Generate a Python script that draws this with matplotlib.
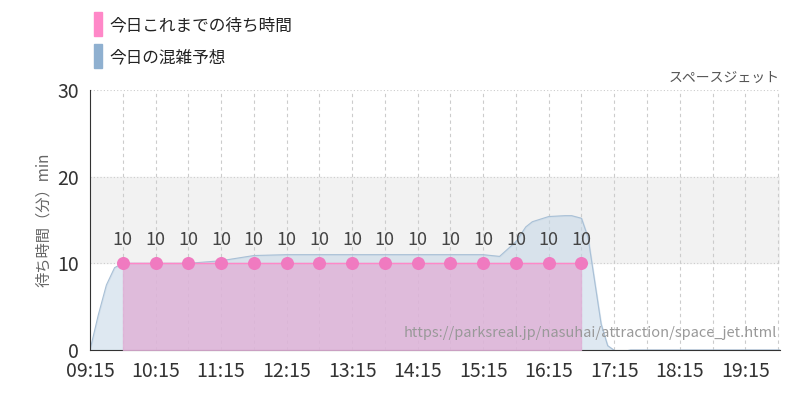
import matplotlib.pyplot as plt
import numpy as np

plt.rcParams['font.family'] = ['Noto Sans CJK JP', 'DejaVu Sans']

# 実績 (hours as decimals)
wait_times = [9.75, 10.25, 10.75, 11.25, 11.75, 12.25, 12.75, 13.25, 13.75, 14.25,
              14.75, 15.25, 15.75, 16.25, 16.75]
wait_values = [10] * 15

# 予想
fc_times = [9.25, 9.375, 9.5, 9.625, 9.75, 10.0, 10.25, 10.75, 11.25, 11.75, 12.25, 12.75,
            13.25, 13.75, 14.25, 14.75, 15.25, 15.5, 15.75, 15.9, 16.0, 16.25, 16.5, 16.6,
            16.75, 16.85, 16.95, 17.05, 17.15, 17.3, 17.5, 18.25, 19.25, 19.8]
fc_values = [0, 4, 7.5, 9.5, 10, 10, 10, 10, 10.3, 10.9, 11, 11, 11, 11, 11, 11, 11, 10.8,
             12.5, 14.2, 14.8, 15.4, 15.5, 15.5, 15.2, 13, 8, 3, 0.5, -0.3, 0, 0, 0, 0]

tick_pos = np.arange(9.25, 19.3, 1.0)
tick_labels = ['09:15', '10:15', '11:15', '12:15', '13:15', '14:15', '15:15', '16:15', '17:15', '18:15', '19:15']

fig = plt.figure(figsize=(8, 4), dpi=100)
ax = fig.add_axes([0.1125, 0.125, 0.8625, 0.65])

ax.axhspan(10, 20, color='#f2f2f2', zorder=0)
for x in np.arange(9.75, 19.8, 0.5):
    ax.axvline(x, color='#cccccc', ls=(0, (3, 3)), lw=0.8, zorder=1)
for y in [10, 20, 30]:
    ax.axhline(y, color='#cccccc', ls=(0, (1, 2)), lw=0.8, zorder=1)

ax.fill_between(fc_times, fc_values, color='#c3d6e6', alpha=0.55, zorder=2)
ax.plot(fc_times, fc_values, color='#a9c0d6', lw=0.8, zorder=2)

ax.fill_between(wait_times, wait_values, color='#e0b0d6', alpha=0.8, zorder=3)
ax.plot(wait_times, wait_values, color='#ff88c8', lw=1, zorder=4)
ax.scatter(wait_times, wait_values, s=70, color='#f07ac0', zorder=5)
for t, v in zip(wait_times, wait_values):
    ax.text(t, v + 1.6, str(v), ha='center', va='bottom', fontsize=13, color='#444444')

ax.set_xlim(9.25, 19.78)
ax.set_ylim(0, 30)
ax.set_yticks([0, 10, 20, 30])
ax.set_xticks(tick_pos)
ax.set_xticklabels(tick_labels)
ax.tick_params(labelsize=14, length=0, colors='#333333')
ax.tick_params(axis='x', pad=8)
ax.tick_params(axis='y', pad=8)
for s in ['top', 'right']:
    ax.spines[s].set_visible(False)
ax.spines['left'].set_color('#333333')
ax.spines['bottom'].set_color('#333333')
ax.set_ylabel('待ち時間（分）min', fontsize=11, color='#666666')

ax.text(1.0, 1.02, 'スペースジェット', transform=ax.transAxes, ha='right', va='bottom',
        fontsize=10, color='#555555')
ax.text(0.995, 0.04, 'https://parksreal.jp/nasuhai/attraction/space_jet.html',
        transform=ax.transAxes, ha='right', va='bottom', fontsize=10.5, color='#999999', zorder=6)

fig.patches.append(plt.Rectangle((0.117, 0.91), 0.011, 0.06, color='#ff88c8', transform=fig.transFigure))
fig.patches.append(plt.Rectangle((0.117, 0.83), 0.011, 0.06, color='#8fb0d0', transform=fig.transFigure))
fig.text(0.137, 0.935, '今日これまでの待ち時間', fontsize=12, va='center', color='#222222')
fig.text(0.137, 0.855, '今日の混雑予想', fontsize=12, va='center', color='#222222')

fig.savefig('out.png')
